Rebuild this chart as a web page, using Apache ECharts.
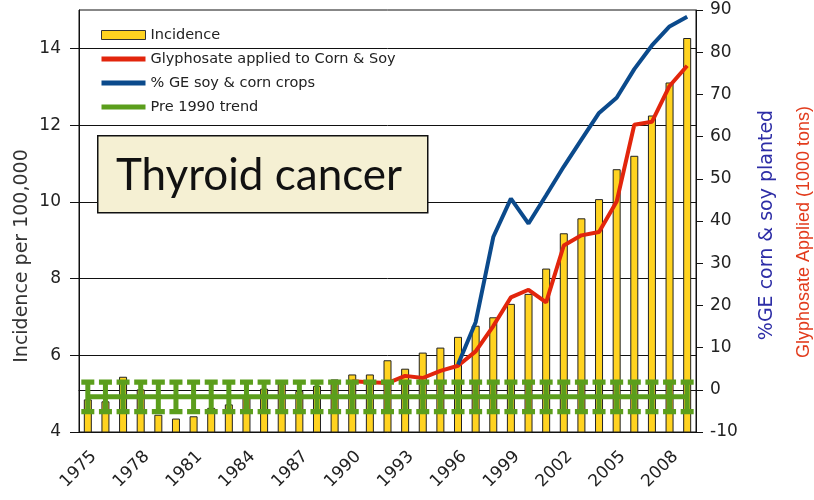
<!DOCTYPE html>
<html>
<head>
<meta charset="utf-8">
<script src="https://cdn.jsdelivr.net/npm/echarts@6/dist/echarts.min.js"></script>
<style>html,body{margin:0;padding:0;background:#fff;}#c{width:814px;height:500px;}</style>
</head>
<body>
<div id="c"></div>
<script>
const years = ['1975','1976','1977','1978','1979','1980','1981','1982','1983','1984',
  '1985','1986','1987','1988','1989','1990','1991','1992','1993','1994',
  '1995','1996','1997','1998','1999','2000','2001','2002','2003','2004',
  '2005','2006','2007','2008','2009'];
const incidence = [4.85,4.80,5.44,5.11,4.45,4.35,4.41,4.63,4.72,4.95,
  5.13,5.26,5.07,5.20,5.37,5.50,5.50,5.87,5.65,6.07,
  6.20,6.48,6.77,6.99,7.34,7.60,8.26,9.18,9.57,10.07,
  10.85,11.20,12.25,13.11,14.27];
const glyphosate = [null,null,null,null,null,null,null,null,null,null,
  null,null,null,null,null,2.0,1.8,1.6,3.3,2.8,
  4.5,5.7,9.1,15.1,21.9,23.7,20.7,34.2,36.6,37.4,
  44.6,62.8,63.5,72.0,76.8];
const gePercent = [null,null,null,null,null,null,null,null,null,null,
  null,null,null,null,null,null,null,null,null,null,
  null,6.0,16.0,36.2,45.3,39.4,46.1,52.9,59.3,65.6,
  69.2,76.0,81.6,86.1,88.4];
const trendMid = [4.92,4.92,4.92,4.92,4.92,4.92,4.92,4.92,4.92,4.92,
  4.92,4.92,4.92,4.92,4.92,4.92,4.92,4.92,4.92,4.92,
  4.92,4.92,4.92,4.92,4.92,4.92,4.92,4.92,4.92,4.92,
  4.92,4.92,4.92,4.92,4.92];
const trendLow = [4.53,4.53,4.53,4.53,4.53,4.53,4.53,4.53,4.53,4.53,
  4.53,4.53,4.53,4.53,4.53,4.53,4.53,4.53,4.53,4.53,
  4.53,4.53,4.53,4.53,4.53,4.53,4.53,4.53,4.53,4.53,
  4.53,4.53,4.53,4.53,4.53];
const trendHigh = [5.30,5.30,5.30,5.30,5.30,5.30,5.30,5.30,5.30,5.30,
  5.30,5.30,5.30,5.30,5.30,5.30,5.30,5.30,5.30,5.30,
  5.30,5.30,5.30,5.30,5.30,5.30,5.30,5.30,5.30,5.30,
  5.30,5.30,5.30,5.30,5.30];
const leftTicks = [4,6,8,10,12,14];
const rightTicks = [-10,0,10,20,30,40,50,60,70,80,90];

const FONT = 'DejaVu Sans';
const GREEN = '#5b9e1c', RED = '#e2250c', BLUE = '#0b4a8c', GOLD = '#FFD320';

const chart = echarts.init(document.getElementById('c'), null, {renderer:'canvas'});
const errData = years.map((y, i) => [i, trendMid[i], trendLow[i], trendHigh[i]]);

chart.setOption({
  animation: false,
  backgroundColor: '#fff',
  grid: {left: 79, right: 118, top: 10, bottom: 68, show: true, borderColor: '#111', borderWidth: 1, backgroundColor: 'transparent'},
  legend: {
    orient: 'vertical', left: 96, top: 22, itemWidth: 44, itemHeight: 9, itemGap: 8,
    textStyle: {fontFamily: FONT, fontSize: 14.5, color: '#222', lineHeight: 16},
    data: [
      {name: 'Incidence', icon: 'rect', itemStyle: {color: GOLD, borderColor: '#333', borderWidth: 1}},
      {name: 'Glyphosate applied to Corn & Soy', icon: 'path://M0,0L44,0L44,5L0,5Z', itemStyle: {color: RED, borderWidth: 0}},
      {name: '% GE soy & corn crops', icon: 'path://M0,0L44,0L44,5L0,5Z', itemStyle: {color: BLUE, borderWidth: 0}},
      {name: 'Pre 1990 trend', icon: 'path://M0,0L44,0L44,5L0,5Z', itemStyle: {color: GREEN, borderWidth: 0}}
    ]
  },
  xAxis: {
    type: 'category', data: years, boundaryGap: true,
    axisLine: {lineStyle: {color: '#111', width: 1}},
    axisTick: {interval: 0, length: 8, lineStyle: {color: '#111'}},
    axisLabel: {interval: 2, rotate: 45, verticalAlign: 'top', fontFamily: FONT, fontSize: 17, color: '#222', margin: 16}
  },
  yAxis: [
    {
      type: 'value', min: 4, max: 15, interval: 2, position: 'left',
      axisLine: {show: true, lineStyle: {color: '#111'}},
      axisTick: {show: true, length: 9, customValues: leftTicks, lineStyle: {color: '#111'}},
      axisLabel: {customValues: leftTicks, fontFamily: FONT, fontSize: 17, color: '#222', margin: 18},
      splitLine: {show: true, lineStyle: {color: '#111', width: 1}}
    },
    {
      type: 'value', min: -10, max: 90, interval: 10, position: 'right',
      axisLine: {show: true, lineStyle: {color: '#111'}},
      axisTick: {show: true, length: 7, lineStyle: {color: '#111'}},
      axisLabel: {fontFamily: FONT, fontSize: 17, color: '#222', margin: 14},
      splitLine: {show: false}
    }
  ],
  series: [
    {
      name: 'Incidence', type: 'bar', yAxisIndex: 0, data: incidence, barWidth: 8, z: 2,
      itemStyle: {color: GOLD, borderColor: '#222', borderWidth: 1}
    },
    {
      name: 'Pre 1990 trend', type: 'line', yAxisIndex: 0, data: trendMid, symbol: 'none', z: 6,
      itemStyle: {color: GREEN}, lineStyle: {color: GREEN, width: 5}
    },
    {
      name: 'trendErr', type: 'custom', yAxisIndex: 0, data: errData, z: 6,
      encode: {x: 0, y: [1, 2, 3]},
      renderItem: function (params, api) {
        const i = api.value(0);
        const lo = api.coord([i, api.value(2)]);
        const hi = api.coord([i, api.value(3)]);
        const x = lo[0], yl = lo[1], yh = hi[1];
        const hw = 6.5, vw = 2.5, ch = 2.7;
        return {
          type: 'polygon',
          shape: {points: [
            [x - hw, yh - ch], [x + hw, yh - ch], [x + hw, yh + ch], [x + vw, yh + ch],
            [x + vw, yl - ch], [x + hw, yl - ch], [x + hw, yl + ch], [x - hw, yl + ch],
            [x - hw, yl - ch], [x - vw, yl - ch], [x - vw, yh + ch], [x - hw, yh + ch]
          ]},
          style: {fill: GREEN, stroke: null}
        };
      }
    },
    {
      name: 'Glyphosate applied to Corn & Soy', type: 'line', yAxisIndex: 1, data: glyphosate, symbol: 'none', z: 5,
      itemStyle: {color: RED}, lineStyle: {color: RED, width: 4}
    },
    {
      name: '% GE soy & corn crops', type: 'line', yAxisIndex: 1, data: gePercent, symbol: 'none', z: 5,
      itemStyle: {color: BLUE}, lineStyle: {color: BLUE, width: 4}
    }
  ],
  graphic: [
    {type: 'rect', left: 97, top: 135, z: 20, shape: {width: 330, height: 77},
      style: {fill: '#F5F0D3', stroke: '#111', lineWidth: 1.5}},
    {type: 'text', x: 259, y: 176, z: 21,
      style: {text: 'Thyroid cancer', font: '44px Lato', fill: '#111', textAlign: 'center', textVerticalAlign: 'middle'}},
    {type: 'text', x: 22, y: 256, rotation: Math.PI / 2, z: 21,
      style: {text: 'Incidence per 100,000', font: '19px "DejaVu Sans"', fill: '#333', textAlign: 'center', textVerticalAlign: 'middle'}},
    {type: 'text', x: 767, y: 225, rotation: Math.PI / 2, z: 21,
      style: {text: '%GE corn & soy planted', font: '19px "DejaVu Sans"', fill: '#2d2da6', textAlign: 'center', textVerticalAlign: 'middle'}},
    {type: 'text', x: 804, y: 232, rotation: Math.PI / 2, z: 21,
      style: {text: 'Glyphosate Applied (1000 tons)', font: '18px "Liberation Sans"', fill: '#e23b1c', textAlign: 'center', textVerticalAlign: 'middle'}}
  ]
});
</script>
</body>
</html>
